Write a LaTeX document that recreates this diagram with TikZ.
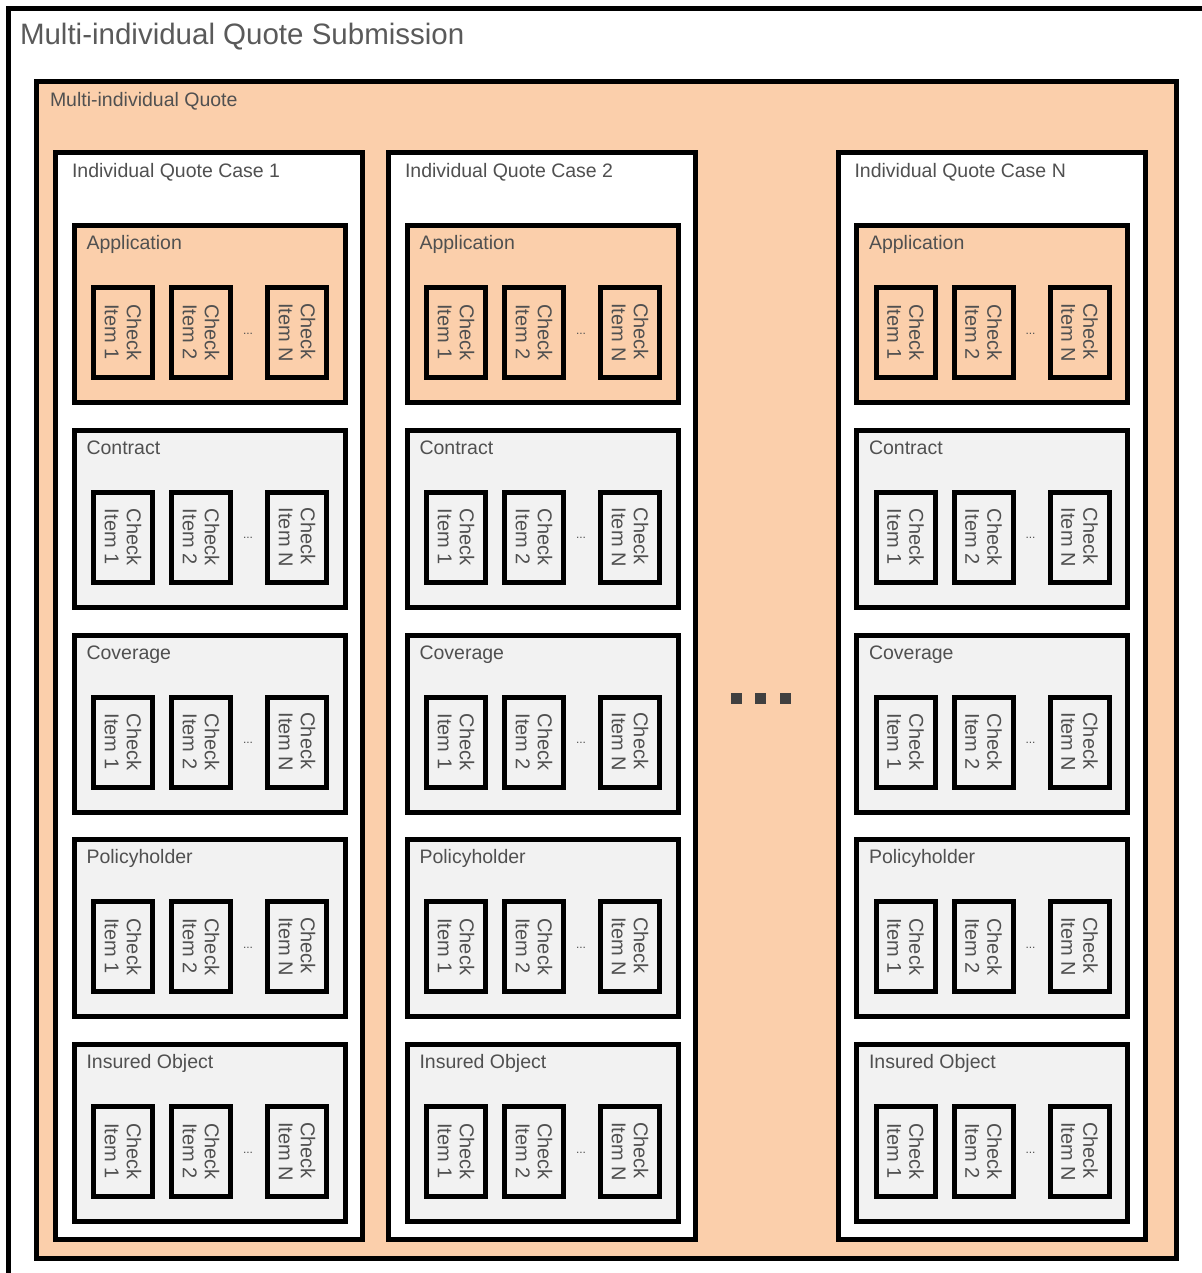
\documentclass[tikz,border=0pt]{standalone}
\usepackage{fontspec}
\setmainfont{Liberation Sans}
\usetikzlibrary{positioning,calc}
\definecolor{quoteorange}{HTML}{FBCFAB}
\definecolor{sectiongray}{HTML}{F2F2F2}
\definecolor{labelgray}{HTML}{505050}
\definecolor{titlegray}{HTML}{5A5A5A}
\definecolor{dotgray}{HTML}{404040}

\begin{document}
\begin{tikzpicture}[
  x=1pt, y=-1pt,
  every node/.style={text=labelgray, inner sep=0pt, outer sep=0pt},
  frame/.style={draw, line width=5pt, anchor=north west},
  quotebox/.style={frame, fill=quoteorange, minimum width=1139.5pt, minimum height=1176.5pt},
  casebox/.style={frame, fill=white, minimum width=307pt, minimum height=1087pt},
  secbox/.style={frame, minimum width=271pt, minimum height=177pt},
  itembox/.style={draw, line width=5pt, rotate=-90, minimum width=90pt, minimum height=59pt, align=left, font=\fontsize{20}{22}\selectfont},
  lbl/.style={anchor=base west, font=\fontsize{19.5}{22}\selectfont},
  gapdot/.style={fill=dotgray, minimum size=11pt}
]
\useasboundingbox (0,0) rectangle (1201,1273);
% outer frame, cut at the right and bottom
\node[frame, fill=white, minimum width=1200pt, minimum height=1275pt] (submission) at (8.5,8.5) {};
\node[lbl, text=titlegray, font=\fontsize{29.5}{32}\selectfont] (submission-title) at ([shift={(11.5,36)}]submission.north west) {Multi-individual Quote Submission};
\node[quotebox] (quote) at (36.5,81.5) {};
\node[lbl] (quote-title) at ([shift={(13.5,25.5)}]quote.north west) {Multi-individual Quote};
% one column per individual case
\foreach \c/\cx/\cname in {1/55.5/1, 2/388.5/2, n/838/N} {
  \node[casebox] (case\c) at (\cx,152.5) {};
  \node[lbl] (case\c-title) at ([shift={(16.5,25.5)}]case\c.north west) {Individual Quote Case \cname};
  \foreach \s/\sy/\sname/\sfill in {app/225.5/Application/quoteorange, con/430.25/Contract/sectiongray, cov/635/Coverage/sectiongray, pol/839.75/Policyholder/sectiongray, ins/1044.5/Insured Object/sectiongray} {
    \node[secbox, fill=\sfill] (case\c-\s) at (\cx+18.5,\sy) {};
    \node[lbl] (case\c-\s-title) at ([shift={(12.5,24)}]case\c-\s.north west) {\sname};
    \foreach \i/\ix/\iname in {1/49/1, 2/127/2, n/223/N}
      \node[itembox] (case\c-\s-item\i) at ([shift={(\ix,107)}]case\c-\s.north west) {Check\\Item \iname};
    \node[font=\fontsize{12}{12}\selectfont] (case\c-\s-more) at ([shift={(174,108)}]case\c-\s.north west) {...};
  }
}
% cases left out between case 2 and case N
\foreach \d/\dx in {1/736, 2/760.5, 3/785.5}
  \node[gapdot] (gap\d) at (\dx,698.5) {};
\end{tikzpicture}
\end{document}
